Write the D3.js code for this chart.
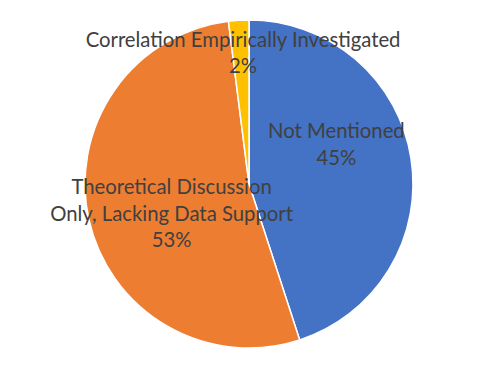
<!DOCTYPE html>
<html>
<head>
<meta charset="utf-8">
<script src="https://cdn.jsdelivr.net/npm/d3@7"></script>
<style>
  body { margin: 0; background: #fff; }
  svg { display: block; }
</style>
</head>
<body>
<svg id="chart" width="499" height="369"></svg>
<script>
const categories = [
    ["Not Mentioned"],
    ["Theoretical Discussion", "Only, Lacking Data Support"],
    ["Correlation Empirically Investigated"]
];
const values = [45, 53, 2];
const colors = ["#4472C4", "#ED7D31", "#FFC000"];

// where each label sits: radius from centre and angle shift (degrees)
const labelPlace = [
    { r: 96, shift: -15.5 },
    { r: 83, shift: -8.5 },
    { r: 131, shift: 1 }
];

const width = 499, height = 369;
const cx = 249, cy = 184, radius = 164;
const svg = d3.select("#chart");

const pie = d3.pie().sort(null).value((d) => d);
const arcs = pie(values);

const arc = d3.arc().innerRadius(0).outerRadius(radius);

const g = svg.append("g").attr("transform", "translate(" + cx + "," + cy + ")");

g.selectAll("path")
    .data(arcs)
    .enter()
    .append("path")
    .attr("d", arc)
    .attr("fill", (d, i) => colors[i])
    .attr("stroke", "#fff")
    .attr("stroke-width", 1.5);

const lineH = 26.5;

const labels = g.selectAll(".label")
    .data(arcs)
    .enter()
    .append("text")
    .attr("class", "label")
    .attr("font-family", "Lato, 'Noto Sans', sans-serif")
    .attr("font-size", "20.3px")
    .attr("fill", "#404040")
    .attr("text-anchor", "middle")
    .attr("transform", (d, i) => {
        const mid = (d.startAngle + d.endAngle) / 2 + labelPlace[i].shift * Math.PI / 180;
        const r = labelPlace[i].r;
        return "translate(" + (r * Math.sin(mid)) + "," + (-r * Math.cos(mid)) + ")";
    });

labels.each(function (d, i) {
    const lines = categories[i].concat([d3.format(".0%")(values[i] / d3.sum(values))]);
    const t = d3.select(this);
    const top = -(lines.length - 1) * lineH / 2;
    lines.forEach((s, k) => {
        t.append("tspan")
            .attr("x", 0)
            .attr("y", top + k * lineH)
            .attr("dy", "0.35em")
            .text(s);
    });
});
</script>
</body>
</html>
